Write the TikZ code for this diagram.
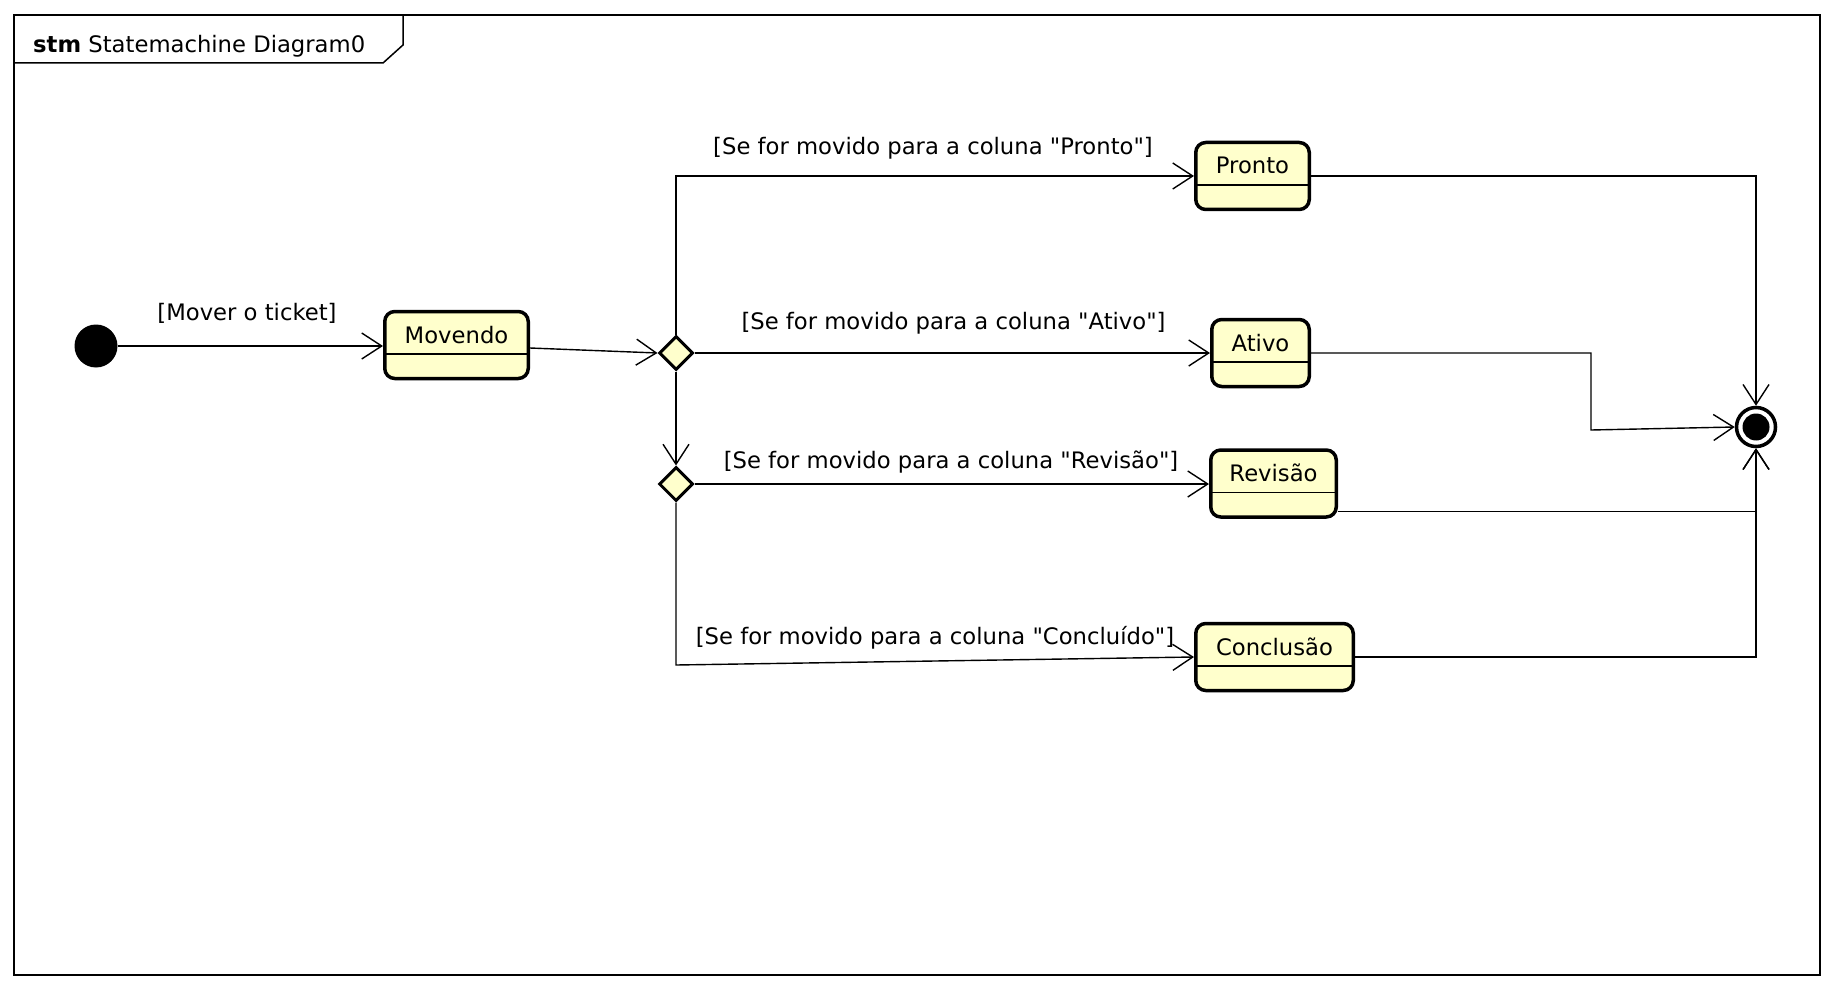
\documentclass[tikz,border=0pt]{standalone}
\usepackage{fontspec}
\setmainfont{DejaVu Sans}[Ligatures=TeXOff]
\usetikzlibrary{arrows.meta,shapes.geometric}
\definecolor{stfill}{RGB}{255,255,204}
\begin{document}
\begin{tikzpicture}[x=1pt,y=-1pt,
  font=\fontsize{22.7pt}{27pt}\selectfont,
  statebox/.style={draw, line width=3.5pt, rounded corners=10pt, fill=stfill,
    minimum height=67pt, text height=16pt, text depth=20pt, inner sep=0pt,
    path picture={\draw[line width=1.5pt] ([yshift=-9pt]path picture bounding box.west) -- ([yshift=-9pt]path picture bounding box.east);}},
  choice/.style={diamond, draw, line width=3pt, fill=stfill, minimum width=34pt, minimum height=34pt, inner sep=0pt},
  conn/.style={line width=1.4pt, -{Straight Barb[length=20pt,width=26pt]}},
  guard/.style={anchor=center, inner sep=0pt}]
\useasboundingbox (0,0) rectangle (1838,992);
% frame
\draw[line width=2pt] (14,15) rectangle (1820,975);
\draw[line width=1.5pt] (14,63) -- (383,63) -- (403,45) -- (403,15);
\node[anchor=base west, inner sep=0pt] (title) at (33,53) {\textbf{stm} Statemachine Diagram0};
% states
\node[circle, fill=black, minimum size=43pt, inner sep=0pt] (init) at (96,346) {};
\node[statebox, minimum width=143.5pt] (mov) at (456.5,345) {Movendo};
\node[choice] (d1) at (676,353) {};
\node[choice] (d2) at (676,484) {};
\node[statebox, minimum width=113.5pt] (pronto) at (1252.5,176) {Pronto};
\node[statebox, minimum width=97.5pt] (ativo) at (1260.5,353) {Ativo};
\node[statebox, minimum width=125.5pt] (rev) at (1273.5,483.5) {Revisão};
\node[statebox, minimum width=157.5pt] (concl) at (1274.5,657) {Conclusão};
\node[circle, draw, line width=3.5pt, fill=white, minimum size=39pt, inner sep=0pt,
  path picture={\fill[black] (path picture bounding box.center) circle (13.5pt);}] (fin) at (1756,427) {};
% helper points
\coordinate (cc) at (676,665);
\coordinate (a1) at (1591,353);
\coordinate (a2) at (1591,430);
% transitions
\draw[conn] (init.east) -- (init.east -| mov.west);
\draw[conn] ([yshift=-3pt]mov.east) -- (d1.west);
\draw[conn] (d1.north) |- (pronto.west);
\draw[conn] (d1.east) -- (d1.east -| ativo.west);
\draw[conn] (d1.south) -- (d2.north);
\draw[conn] (d2.east) -- (d2.east -| rev.west);
\draw[conn] (d2.south) -- (cc) -- (concl.west);
\draw[conn] (pronto.east) -| (fin.north);
\draw[conn] (ativo.east) -- (a1) -- (a2) -- (fin.west);
\draw[conn] ([yshift=-28pt]rev.east) -| (fin.south);
\draw[conn] (concl.east) -| (fin.south);
% guards
\node[guard] (g0) at (247,313) {[Mover o ticket]};
\node[guard] (g1) at (933,148) {[Se for movido para a coluna "Pronto"]};
\node[guard] (g2) at (953.5,323.5) {[Se for movido para a coluna "Ativo"]};
\node[guard] (g3) at (951,462) {[Se for movido para a coluna "Revisão"]};
\node[guard] (g4) at (935,637.5) {[Se for movido para a coluna "Concluído"]};
\end{tikzpicture}
\end{document}
